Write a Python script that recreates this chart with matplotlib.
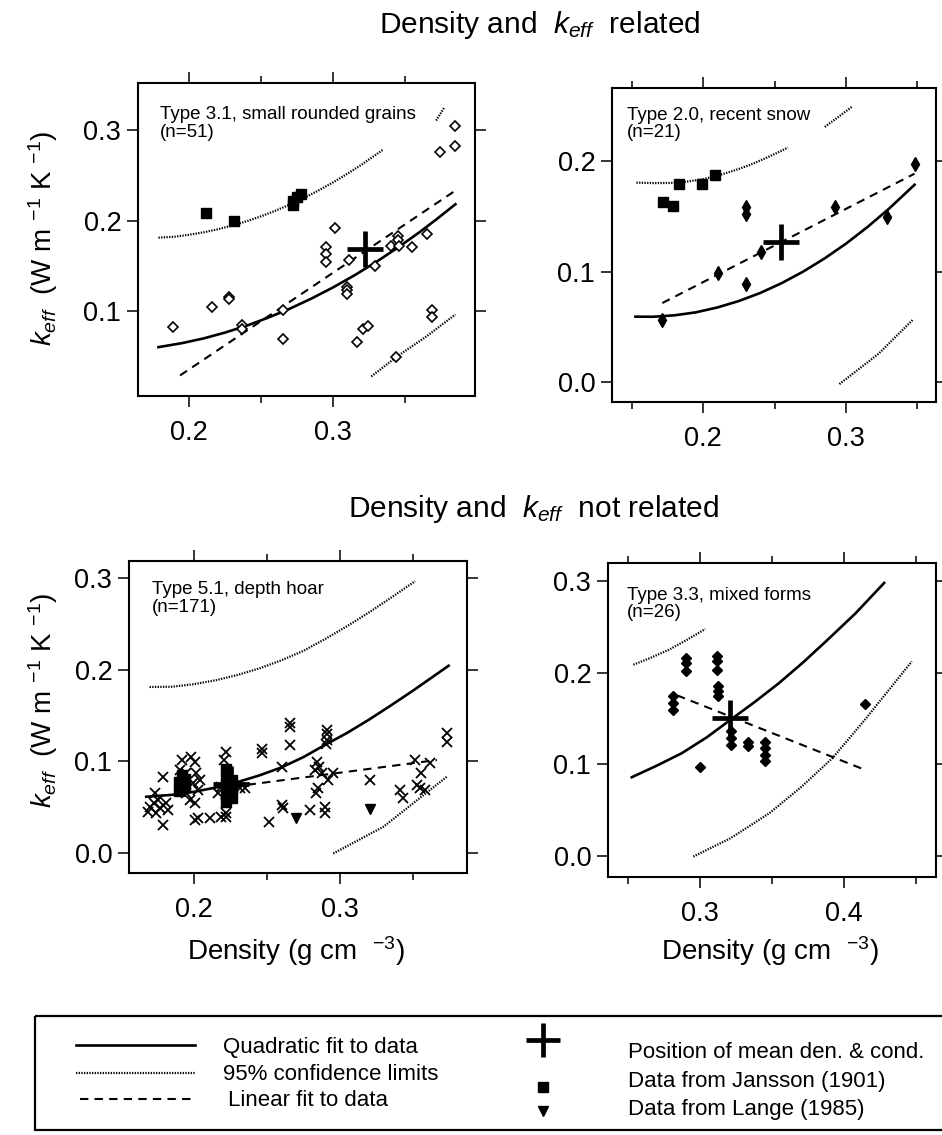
import matplotlib
matplotlib.use("Agg")
import matplotlib.pyplot as plt
from matplotlib.patches import Rectangle
from matplotlib.ticker import FixedLocator, FormatStrFormatter

plt.rcParams["font.family"] = ["Liberation Sans", "DejaVu Sans"]
plt.rcParams["mathtext.fontset"] = "custom"
plt.rcParams["mathtext.rm"] = "Liberation Sans"
plt.rcParams["mathtext.it"] = "Liberation Sans:italic"
plt.rcParams["mathtext.bf"] = "Liberation Sans:bold"

W, H = 942, 1135

# ---- Type 3.1, small rounded grains ----
p1_grain_x = [0.189, 0.216, 0.228, 0.228, 0.237, 0.237, 0.265, 0.265, 0.295, 0.295, 0.295,
              0.3016, 0.310, 0.310, 0.310, 0.311, 0.317, 0.321, 0.324, 0.329, 0.340, 0.345,
              0.345, 0.346, 0.344, 0.355, 0.365, 0.369, 0.369, 0.374, 0.385, 0.385]
p1_grain_y = [0.082, 0.104, 0.115, 0.113, 0.084, 0.080, 0.101, 0.069, 0.171, 0.163, 0.154,
              0.192, 0.126, 0.123, 0.119, 0.156, 0.066, 0.080, 0.083, 0.150, 0.172, 0.183,
              0.178, 0.172, 0.049, 0.171, 0.185, 0.101, 0.093, 0.276, 0.282, 0.304]
p1_jansson_x = [0.2115, 0.231, 0.272, 0.272, 0.275, 0.278]
p1_jansson_y = [0.2085, 0.200, 0.217, 0.222, 0.226, 0.229]
p1_mean = (0.322, 0.168)
p1_quad_x = [0.1788, 0.195, 0.210, 0.225, 0.240, 0.255, 0.270, 0.285, 0.300, 0.315, 0.330,
             0.345, 0.360, 0.372, 0.385]
p1_quad_y = [0.060, 0.0644, 0.0696, 0.0761, 0.0837, 0.0926, 0.1025, 0.1137, 0.126, 0.1395,
             0.1542, 0.170, 0.187, 0.2015, 0.218]
p1_lin_x = [0.1938, 0.385]
p1_lin_y = [0.0287, 0.2331]
p1_conf = [
    ([0.1788, 0.190, 0.200, 0.210, 0.220, 0.230, 0.240, 0.250, 0.260, 0.270, 0.280, 0.290,
      0.300, 0.310, 0.320, 0.3346],
     [0.1810, 0.1821, 0.1842, 0.1869, 0.1903, 0.1944, 0.1992, 0.2046, 0.2108, 0.2176, 0.2251,
      0.2333, 0.2421, 0.2517, 0.2619, 0.2781]),
    ([0.3716, 0.3774], [0.3105, 0.3252]),
    ([0.3266, 0.3439, 0.365, 0.385], [0.0276, 0.049, 0.072, 0.0961]),
]

# ---- Type 2.0, recent snow ----
p2_grain_x = [0.1715, 0.2103, 0.2304, 0.2304, 0.2304, 0.2406, 0.292, 0.3285, 0.348]
p2_grain_y = [0.0564, 0.0989, 0.1584, 0.1523, 0.0884, 0.1176, 0.1584, 0.1493, 0.1976]
p2_jansson_x = [0.1717, 0.179, 0.183, 0.1995, 0.2087]
p2_jansson_y = [0.1629, 0.159, 0.1789, 0.1795, 0.1876]
p2_mean = (0.2548, 0.1267)
p2_quad_x = [0.1527, 0.165, 0.180, 0.195, 0.210, 0.225, 0.240, 0.255, 0.270, 0.285, 0.300,
             0.315, 0.330, 0.348]
p2_quad_y = [0.0592, 0.0591, 0.0604, 0.0631, 0.0675, 0.0733, 0.0806, 0.0895, 0.0999, 0.1118,
             0.1252, 0.1402, 0.1567, 0.1785]
p2_lin_x = [0.1715, 0.348]
p2_lin_y = [0.0715, 0.1885]
p2_conf = [
    ([0.1534, 0.165, 0.1767, 0.188, 0.1995, 0.211, 0.2224, 0.233, 0.243, 0.251, 0.2594],
     [0.1804, 0.1800, 0.1801, 0.1812, 0.1834, 0.1870, 0.1916, 0.1965, 0.2021, 0.2068, 0.2121]),
    ([0.2852, 0.3041], [0.2308, 0.2489]),
    ([0.2954, 0.3228, 0.3468], [-0.0018, 0.0256, 0.0564]),
]

# ---- Type 5.1, depth hoar ----
p3_hoar_x = [0.1684, 0.170, 0.1723, 0.173, 0.1753, 0.1769, 0.1787, 0.1787, 0.1806, 0.1822, 0.1741,
             0.1902, 0.192, 0.1947, 0.1982, 0.2005, 0.2016, 0.1993, 0.2027, 0.197, 0.2005, 0.1947,
             0.2039, 0.2005, 0.2027, 0.2108, 0.2188,
             0.2217, 0.2204, 0.2188, 0.2165, 0.2222, 0.2217, 0.2217, 0.2268, 0.2313, 0.2348,
             0.2469, 0.2469, 0.2515,
             0.2606, 0.2606, 0.2611, 0.2657, 0.2657, 0.2657, 0.2794,
             0.284, 0.2858, 0.2828, 0.2851, 0.2835, 0.2874, 0.2897, 0.2897, 0.2908, 0.2908,
             0.2913, 0.2904, 0.292, 0.2954,
             0.3206,
             0.3412, 0.3435, 0.3515, 0.3526, 0.3545, 0.3554, 0.3584, 0.3618, 0.3732, 0.3732]
p3_hoar_y = [0.0448, 0.0503, 0.054, 0.0649, 0.0576, 0.0485, 0.0303, 0.0831, 0.054, 0.0467, 0.043,
             0.0904, 0.1013, 0.0868, 0.105, 0.0995, 0.0868, 0.0758, 0.0685, 0.0576, 0.054, 0.0649,
             0.0795, 0.0357, 0.0375, 0.0375, 0.0394,
             0.1105, 0.1013, 0.0722, 0.0649, 0.054, 0.043, 0.0394, 0.0722, 0.0704, 0.0704,
             0.113, 0.1094, 0.0339,
             0.0941, 0.0521, 0.0485, 0.1415, 0.1371, 0.1178, 0.0467,
             0.0995, 0.0941, 0.0904, 0.0704, 0.0649, 0.0868, 0.0503, 0.043, 0.1342, 0.1298,
             0.1232, 0.1188, 0.0795, 0.0868,
             0.0795,
             0.0685, 0.0594, 0.1013, 0.074, 0.0704, 0.0868, 0.0685, 0.0984, 0.1312, 0.1214]
p3_jansson_x = [0.190, 0.190, 0.192, 0.194, 0.194, 0.222, 0.222, 0.222, 0.222, 0.222, 0.226, 0.226, 0.226]
p3_jansson_y = [0.068, 0.077, 0.085, 0.072, 0.081, 0.055, 0.064, 0.073, 0.082, 0.092, 0.060, 0.070, 0.080]
p3_lange_x = [0.2698, 0.3206]
p3_lange_y = [0.0375, 0.0474]
p3_mean = (0.2255, 0.075)
p3_quad_x = [0.1673, 0.185, 0.200, 0.215, 0.230, 0.245, 0.260, 0.275, 0.290, 0.305, 0.320,
             0.335, 0.350, 0.3744]
p3_quad_y = [0.0612, 0.0633, 0.0666, 0.0713, 0.0773, 0.0846, 0.0933, 0.1045, 0.118, 0.131,
             0.1455, 0.161, 0.177, 0.2042]
p3_lin_x = [0.2268, 0.3664]
p3_lin_y = [0.0722, 0.1013]
p3_conf = [
    ([0.1696, 0.185, 0.200, 0.215, 0.230, 0.245, 0.260, 0.275, 0.290, 0.305, 0.320, 0.335, 0.3515],
     [0.1810, 0.1813, 0.1841, 0.1884, 0.1942, 0.2014, 0.2102, 0.2205, 0.2335, 0.2475, 0.2625,
      0.2785, 0.2965]),
    ([0.2954, 0.3297, 0.3732], [-0.0007, 0.0284, 0.0831]),
]

# ---- Type 3.3, mixed forms ----
p4_grain_x = [0.2816, 0.2816, 0.2816, 0.2906, 0.2906, 0.2906, 0.3004, 0.3117, 0.3117, 0.3117,
              0.3124, 0.3124, 0.3124, 0.3218, 0.3218, 0.3218, 0.3337, 0.3337,
              0.345, 0.345, 0.345, 0.345, 0.4146]
p4_grain_y = [0.1743, 0.167, 0.1597, 0.2162, 0.2107, 0.2016, 0.0977, 0.218, 0.2125, 0.2034,
              0.1852, 0.1797, 0.1743, 0.136, 0.1287, 0.1214, 0.125, 0.1196,
              0.125, 0.1178, 0.1105, 0.1032, 0.1659]
p4_mean = (0.3213, 0.1506)
p4_quad_x = [0.2528, 0.270, 0.2876, 0.305, 0.3213, 0.338, 0.355, 0.372, 0.3888, 0.408, 0.428]
p4_quad_y = [0.086, 0.0985, 0.1123, 0.1297, 0.1487, 0.168, 0.1888, 0.2118, 0.2362, 0.2648, 0.2982]
p4_lin_x = [0.2843, 0.4146]
p4_lin_y = [0.1754, 0.0941]
p4_conf = [
    ([0.2539, 0.266, 0.2787, 0.291, 0.3038], [0.2089, 0.2165, 0.2253, 0.2360, 0.2479]),
    ([0.2955, 0.3213, 0.3483, 0.3708, 0.3921, 0.4146, 0.4472],
     [-0.0007, 0.0193, 0.0467, 0.0758, 0.1068, 0.1487, 0.2125]),
]

SOLID = dict(color="black", lw=1.9, ls="-")
DOTTED = dict(color="black", lw=1.6, ls=(0, (0.6, 0.6)))
DASHED = dict(color="black", lw=1.5, ls=(0, (4, 3)))
TICK_FS = 19.5
LABEL_FS = 20


def px_rect(left, top, right, bottom):
    return [left / W, 1 - bottom / H, (right - left) / W, (bottom - top) / H]


def style_axes(ax, xlim, ylim, xmajor, xminor, yticks):
    ax.set_xlim(*xlim)
    ax.set_ylim(*ylim)
    ax.xaxis.set_major_locator(FixedLocator(xmajor))
    ax.xaxis.set_minor_locator(FixedLocator(xminor))
    ax.yaxis.set_major_locator(FixedLocator(yticks))
    ax.xaxis.set_major_formatter(FormatStrFormatter("%.1f"))
    ax.yaxis.set_major_formatter(FormatStrFormatter("%.1f"))
    ax.tick_params(which="both", direction="out", top=True, right=True, width=1.1)
    ax.tick_params(which="major", length=8, labelsize=TICK_FS)
    ax.tick_params(which="minor", length=5)
    ax.tick_params(axis="x", which="major", pad=9)
    ax.tick_params(axis="y", which="major", pad=4)
    for sp in ax.spines.values():
        sp.set_linewidth(1.5)


def draw_fits(ax, qx, qy, lx, ly, conf):
    ax.plot(qx, qy, **SOLID)
    ax.plot(lx, ly, **DASHED)
    for cx, cy in conf:
        ax.plot(cx, cy, **DOTTED)


def draw_mean(ax, mean):
    ax.plot([mean[0]], [mean[1]], marker="+", ms=26, mew=3.4, color="black", ls="none", zorder=5)


def panel_text(ax, x, y, txt):
    ax.text(x, y, txt, transform=ax.transAxes, fontsize=13.5, ha="left", va="top",
            linespacing=1.05)


fig = plt.figure(figsize=(W / 100, H / 100), dpi=100)

# top-left
ax1 = fig.add_axes(px_rect(138, 83, 475, 396))
draw_fits(ax1, p1_quad_x, p1_quad_y, p1_lin_x, p1_lin_y, p1_conf)
ax1.plot(p1_grain_x, p1_grain_y, ls="none", marker="D", ms=5, mfc="white", mec="black", mew=1.2)
ax1.plot(p1_jansson_x, p1_jansson_y, ls="none", marker="s", ms=7, color="black")
draw_mean(ax1, p1_mean)
style_axes(ax1, (0.1646, 0.3986), (0.006, 0.352), [0.2, 0.3], [0.25, 0.35], [0.1, 0.2, 0.3])
panel_text(ax1, 0.065, 0.925, "Type 3.1, small rounded grains\n(n=51)")

# top-right
ax2 = fig.add_axes(px_rect(612, 88, 936, 402))
draw_fits(ax2, p2_quad_x, p2_quad_y, p2_lin_x, p2_lin_y, p2_conf)
ax2.plot(p2_grain_x, p2_grain_y, ls="none", marker="d", ms=7.5, color="black")
ax2.plot(p2_jansson_x, p2_jansson_y, ls="none", marker="s", ms=7, color="black")
draw_mean(ax2, p2_mean)
style_axes(ax2, (0.1363, 0.363), (-0.018, 0.266), [0.2, 0.3], [0.15, 0.25, 0.35], [0.0, 0.1, 0.2])
panel_text(ax2, 0.046, 0.94, "Type 2.0, recent snow\n(n=21)")

# bottom-left
ax3 = fig.add_axes(px_rect(129, 561, 467, 873))
draw_fits(ax3, p3_quad_x, p3_quad_y, p3_lin_x, p3_lin_y, p3_conf)
ax3.plot(p3_hoar_x, p3_hoar_y, ls="none", marker="x", ms=7.5, mew=1.3, color="black")
ax3.plot(p3_jansson_x, p3_jansson_y, ls="none", marker="s", ms=7, color="black")
ax3.plot(p3_lange_x, p3_lange_y, ls="none", marker="v", ms=7, color="black")
draw_mean(ax3, p3_mean)
style_axes(ax3, (0.1555, 0.387), (-0.022, 0.3185), [0.2, 0.3], [0.25, 0.35], [0.0, 0.1, 0.2, 0.3])
panel_text(ax3, 0.068, 0.935, "Type 5.1, depth hoar\n(n=171)")

# bottom-right
ax4 = fig.add_axes(px_rect(608, 563, 936, 877))
draw_fits(ax4, p4_quad_x, p4_quad_y, p4_lin_x, p4_lin_y, p4_conf)
ax4.plot(p4_grain_x, p4_grain_y, ls="none", marker="D", ms=5, color="black")
draw_mean(ax4, p4_mean)
style_axes(ax4, (0.2363, 0.464), (-0.023, 0.320), [0.3, 0.4], [0.25, 0.35, 0.45], [0.0, 0.1, 0.2, 0.3])
panel_text(ax4, 0.058, 0.925, "Type 3.3, mixed forms\n(n=26)")

# titles and axis labels
fig.text(540 / W, 1 - 33 / H, r"Density and  $k_{eff}$  related", fontsize=21.5, ha="center", va="baseline")
fig.text(534 / W, 1 - 517 / H, r"Density and  $k_{eff}$  not related", fontsize=21.5, ha="center", va="baseline")
ylab = r"$k_{eff}$  (W m $^{-1}$ K $^{-1}$)"
fig.text(43 / W, 1 - 238 / H, ylab, fontsize=LABEL_FS, rotation=90, ha="center", va="center")
fig.text(43 / W, 1 - 700 / H, ylab, fontsize=LABEL_FS, rotation=90, ha="center", va="center")
xlab = r"Density (g cm  $^{-3}$)"
fig.text(296 / W, 1 - 960 / H, xlab, fontsize=20, ha="center", va="baseline")
fig.text(770 / W, 1 - 960 / H, xlab, fontsize=20, ha="center", va="baseline")

# legend box drawn in pixel space
lax = fig.add_axes([0, 0, 1, 1])
lax.set_xlim(0, W)
lax.set_ylim(H, 0)
lax.axis("off")
lax.add_patch(Rectangle((35, 1016), 930, 114, fill=False, lw=1.6, ec="black"))
lax.plot([76, 195], [1045, 1045], **SOLID)
lax.plot([76, 195], [1073, 1073], **DOTTED)
lax.plot([80, 192], [1099, 1099], **DASHED)
lfs = 16
lax.text(223, 1047, "Quadratic fit to data", fontsize=lfs, va="center")
lax.text(223, 1075, "95% confidence limits", fontsize=lfs, va="center")
lax.text(228, 1100, "Linear fit to data", fontsize=lfs, va="center")
lax.plot([543], [1040], marker="+", ms=25, mew=3.4, color="black")
lax.plot([543], [1087], marker="s", ms=7, color="black")
lax.plot([543], [1111], marker="v", ms=7, color="black")
lax.text(628, 1052, "Position of mean den. & cond.", fontsize=lfs, va="center")
lax.text(628, 1082, "Data from Jansson (1901)", fontsize=lfs, va="center")
lax.text(628, 1110, "Data from Lange (1985)", fontsize=lfs, va="center")

fig.savefig("out.png", dpi=100)
